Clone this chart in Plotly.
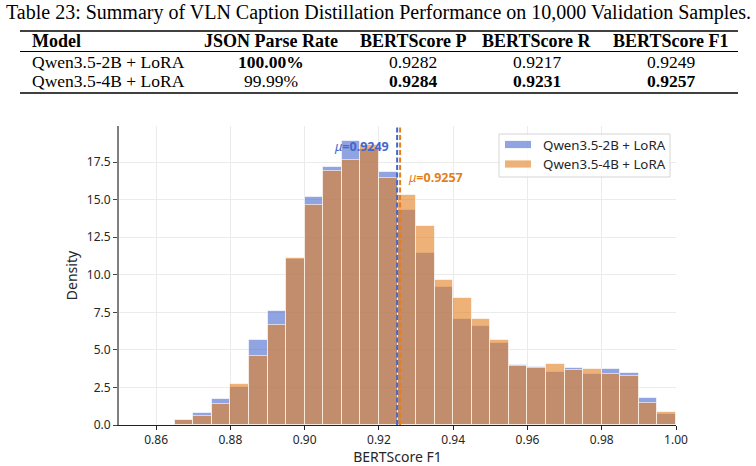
import numpy as np
import plotly.graph_objects as go

# ---------------- data ----------------
bin_left_edges = [0.865, 0.870, 0.875, 0.880, 0.885, 0.890, 0.895, 0.900, 0.905,
                  0.910, 0.915, 0.920, 0.925, 0.930, 0.935, 0.940, 0.945, 0.950,
                  0.955, 0.960, 0.965, 0.970, 0.975, 0.980, 0.985, 0.990, 0.995]
bin_width = 0.005
density_2b = [0.36, 0.80, 1.74, 2.56, 5.66, 7.62, 11.02, 15.17, 17.19,
              18.91, 18.40, 16.86, 14.30, 11.45, 9.20, 7.04, 6.57, 5.43,
              4.01, 3.85, 3.56, 3.79, 3.39, 3.74, 3.43, 1.83, 0.76]
density_4b = [0.31, 0.62, 1.38, 2.74, 4.59, 6.66, 11.09, 14.61, 16.88,
              17.66, 18.64, 16.41, 15.32, 13.23, 9.62, 8.42, 7.04, 5.68,
              3.92, 3.79, 4.08, 3.65, 3.70, 3.39, 3.23, 1.47, 0.89]
series_names = ["Qwen3.5-2B + LoRA", "Qwen3.5-4B + LoRA"]
mean_f1 = [0.9249, 0.9257]

caption = "Table 23: Summary of VLN Caption Distillation Performance on 10,000 Validation Samples."
table_header = ["Model", "JSON Parse Rate", "BERTScore P", "BERTScore R", "BERTScore F1"]
table_row_2b = ["Qwen3.5-2B + LoRA", "<b>100.00%</b>", "0.9282", "0.9217", "0.9249"]
table_row_4b = ["Qwen3.5-4B + LoRA", "99.99%", "<b>0.9284</b>", "<b>0.9231</b>", "<b>0.9257</b>"]

x_ticks = [0.86, 0.88, 0.90, 0.92, 0.94, 0.96, 0.98, 1.00]
y_ticks = [0.0, 2.5, 5.0, 7.5, 10.0, 12.5, 15.0, 17.5]

# ---------------- styling ----------------
W, H = 756, 466
ML, MR, MT, MB = 119, 80, 126, 41
PW, PH = W - ML - MR, H - MT - MB

def xp(px):
    return (px - ML) / PW

def yp(py):
    return (H - MB - py) / PH

blue = "rgba(68,103,203,0.6)"
orange = "rgba(227,127,30,0.6)"
blue_solid = "#4467CB"
orange_solid = "#E37F1E"
edge = "rgba(255,255,255,0.6)"
chart_font = "Noto Sans"
serif = "Liberation Serif"

centers = np.array(bin_left_edges) + bin_width / 2

fig = go.Figure()
fig.add_trace(go.Bar(x=centers, y=density_2b, width=bin_width, name=series_names[0],
                     marker=dict(color=blue, line=dict(color=edge, width=1)),
                     showlegend=False))
fig.add_trace(go.Bar(x=centers, y=density_4b, width=bin_width, name=series_names[1],
                     marker=dict(color=orange, line=dict(color=edge, width=1)),
                     showlegend=False))

# mean lines
for m, c in zip(mean_f1, [blue_solid, orange_solid]):
    fig.add_shape(type="line", xref="x", yref="paper", x0=m, x1=m, y0=0, y1=1,
                  line=dict(color=c, width=2, dash="5px,2.5px"), layer="above")

fig.add_annotation(x=mean_f1[0], y=18.56, xref="x", yref="y", xanchor="right", yanchor="middle",
                   xshift=-6, showarrow=False,
                   text="<i>μ</i><b>=%.4f</b>" % mean_f1[0],
                   font=dict(family=chart_font, size=12.5, color=blue_solid))
fig.add_annotation(x=mean_f1[1], y=16.5, xref="x", yref="y", xanchor="left", yanchor="middle",
                   xshift=6, showarrow=False,
                   text="<i>μ</i><b>=%.4f</b>" % mean_f1[1],
                   font=dict(family=chart_font, size=12.5, color=orange_solid))

# manual legend
lg_x0, lg_x1, lg_y0, lg_y1 = 499, 670, 134, 177
fig.add_shape(type="rect", xref="paper", yref="paper", x0=xp(lg_x0), x1=xp(lg_x1),
              y0=yp(lg_y1), y1=yp(lg_y0), line=dict(color="#d5d5d5", width=1),
              fillcolor="rgba(255,255,255,0.8)", layer="above")
for i, (nm, col) in enumerate(zip(series_names, [blue, orange])):
    cy = 144.5 + i * 19.5
    fig.add_shape(type="rect", xref="paper", yref="paper", x0=xp(505), x1=xp(531),
                  y0=yp(cy + 3.6), y1=yp(cy - 3.6), line=dict(width=0),
                  fillcolor=col, layer="above")
    fig.add_annotation(x=xp(541), y=yp(cy), xref="paper", yref="paper", xanchor="left",
                       yanchor="middle", showarrow=False, text=nm,
                       font=dict(family=chart_font, size=13.3, color="#262626"))

# ---------------- table above chart ----------------
fig.add_annotation(x=xp(378), y=yp(12), xref="paper", yref="paper", showarrow=False,
                   xanchor="center", yanchor="middle", text=caption,
                   font=dict(family=serif, size=20, color="black"))
col_centers = [30, 271, 413, 537, 671]
for row, py, bold in [(table_header, 41, True), (table_row_2b, 62, False), (table_row_4b, 81, False)]:
    for j, txt in enumerate(row):
        t = "<b>%s</b>" % txt if bold else txt
        fig.add_annotation(x=xp(col_centers[j]), y=yp(py), xref="paper", yref="paper",
                           showarrow=False, xanchor="left" if j == 0 else "center",
                           yanchor="middle", text=t,
                           font=dict(family=serif, size=18 if bold else 17.5, color="black"))
for py, lw in [(31, 1.6), (51.5, 1), (93, 1.6)]:
    fig.add_shape(type="line", xref="paper", yref="paper", x0=xp(20), x1=xp(738),
                  y0=yp(py), y1=yp(py), line=dict(color="black", width=lw))

fig.update_layout(
    width=W, height=H,
    margin=dict(l=ML, r=MR, t=MT, b=MB),
    paper_bgcolor="white", plot_bgcolor="white",
    barmode="overlay", bargap=0,
    font=dict(family=chart_font, color="#262626"),
    showlegend=False,
)
fig.update_xaxes(range=[0.85, 1.0], tickvals=x_ticks, ticktext=["%.2f" % v for v in x_ticks],
                 showgrid=True, gridcolor="#ebebeb", gridwidth=1, zeroline=False,
                 showline=True, linecolor="#222222", linewidth=1,
                 ticks="outside", ticklen=4, tickcolor="#222222",
                 tickfont=dict(size=12, family=chart_font, color="#262626"),
                 title=dict(text="BERTScore F1", font=dict(size=14, family=chart_font, color="#262626"),
                            standoff=3),
                 automargin=False)
fig.update_yaxes(range=[0, 19.9], tickvals=y_ticks, ticktext=["%.1f" % v for v in y_ticks],
                 showgrid=True, gridcolor="#ebebeb", gridwidth=1, zeroline=False,
                 showline=True, linecolor="#808080", linewidth=2,
                 ticks="outside", ticklen=4, tickcolor="#444444",
                 tickfont=dict(size=12, family=chart_font, color="#262626"),
                 title=dict(text="Density", font=dict(size=14, family=chart_font, color="#262626"),
                            standoff=6),
                 automargin=False)

fig.write_html("out.html")
